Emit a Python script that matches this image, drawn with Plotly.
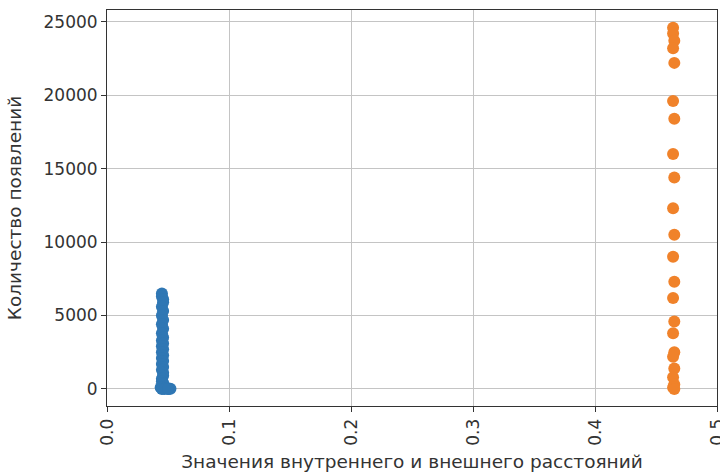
import plotly.graph_objects as go

# Blue series (inner distance)
blue_x = [0.045, 0.045, 0.046, 0.046, 0.045, 0.046, 0.045, 0.046, 0.045, 0.046,
          0.045, 0.046, 0.045, 0.046, 0.045, 0.046, 0.045, 0.046, 0.045, 0.046,
          0.045, 0.046, 0.045, 0.046, 0.046, 0.045, 0.045, 0.046, 0.046, 0.047,
          0.044, 0.046, 0.048, 0.049, 0.050, 0.051, 0.052, 0.045, 0.047, 0.050]
blue_y = [6500, 6300, 6100, 5900, 5600, 5300, 5000, 4700, 4400, 4100,
          3800, 3500, 3300, 3100, 2900, 2700, 2500, 2300, 2100, 1900,
          1700, 1500, 1300, 1100, 900, 700, 500, 400, 300, 200,
          100, 80, 60, 40, 30, 20, 10, 0, 0, 0]

# Orange series (outer distance)
orange_x = [0.464, 0.464, 0.465, 0.464, 0.465, 0.464, 0.465, 0.464, 0.465, 0.464,
            0.465, 0.464, 0.465, 0.464, 0.465, 0.464, 0.465, 0.464, 0.465, 0.464,
            0.465, 0.464, 0.465]
orange_y = [24600, 24200, 23700, 23200, 22200, 19600, 18400, 16000, 14400, 12300,
            10500, 9000, 7300, 6200, 4600, 3800, 2500, 2200, 1400, 800,
            300, 100, 0]

x_ticks = [0, 0.1, 0.2, 0.3, 0.4, 0.5]
x_tick_labels = ["0.0", "0.1", "0.2", "0.3", "0.4", "0.5"]
y_ticks = [0, 5000, 10000, 15000, 20000, 25000]
y_tick_labels = ["0", "5000", "10000", "15000", "20000", "25000"]

fig = go.Figure()
fig.add_trace(go.Scatter(x=blue_x, y=blue_y, mode="markers",
                         marker=dict(color="#2f77b4", size=12, line=dict(width=0))))
fig.add_trace(go.Scatter(x=orange_x, y=orange_y, mode="markers",
                         marker=dict(color="#f0822a", size=12, line=dict(width=0))))

axis_common = dict(showline=True, linecolor="#333", linewidth=1, mirror=True,
                   ticks="outside", ticklen=5, tickcolor="#333",
                   showgrid=True, gridcolor="#c4c4c4", gridwidth=1, zeroline=False,
                   automargin=False, ticklabeloverflow="allow",
                   tickfont=dict(family="DejaVu Sans", size=17, color="#333"))

fig.update_layout(
    width=720, height=474,
    margin=dict(l=107, r=3, t=10, b=68),
    paper_bgcolor="white", plot_bgcolor="white",
    showlegend=False,
    font=dict(family="DejaVu Sans", size=17, color="#333"),
    xaxis=dict(range=[0, 0.5], tickvals=x_ticks, ticktext=x_tick_labels, tickangle=-90,
               title=dict(text="Значения внутреннего и внешнего расстояний",
                          font=dict(size=18.5), standoff=10),
               **axis_common),
    yaxis=dict(range=[-1160, 25800], tickvals=y_ticks, ticktext=y_tick_labels,
               title=dict(text="Количество появлений", font=dict(size=18.5), standoff=17),
               **axis_common),
)

fig.write_html("out.html", config={"displayModeBar": False},
               post_script="document.body.style.margin='0';document.body.style.overflow='hidden';")
